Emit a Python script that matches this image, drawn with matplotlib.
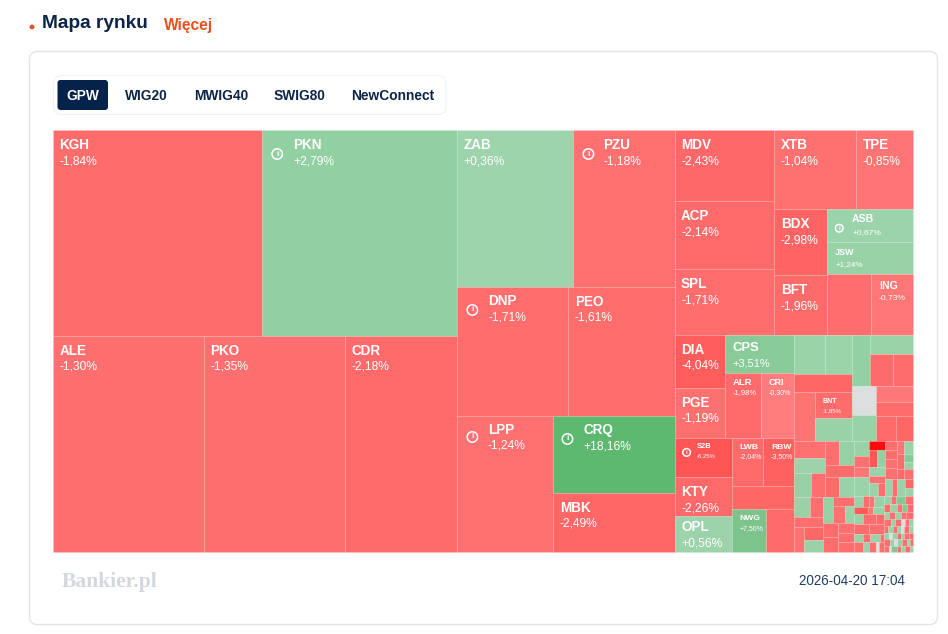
import numpy as np
import matplotlib
matplotlib.use("Agg")
import matplotlib.pyplot as plt
from matplotlib.patches import Rectangle, FancyBboxPatch, Circle

plt.rcParams['font.family'] = ['Liberation Sans', 'DejaVu Sans']

# ---------- data, in layout order ----------
TICKERS_A = ["KGH", "PKN", "ALE", "PKO", "CDR"]
SIZES_A = [430.5, 401.7, 326, 304.6, 242]
CHANGES_A = [-1.84, 2.79, -1.30, -1.35, -2.18]

TICKERS_B = ["ZAB", "PZU", "DNP", "PEO", "LPP", "CRQ", "MBK"]
SIZES_B = [182, 158.6, 143.2, 136.7, 130.6, 93.2, 71.4]
CHANGES_B = [0.36, -1.18, -1.71, -1.61, -1.24, 18.16, -2.49]

TICKERS_C1 = ["MDV", "ACP", "SPL", "XTB", "TPE", "BDX", "BFT", "ASB", "JSW", "", "ING"]
SIZES_C1 = [71, 68, 65, 64.8, 45, 35, 31.3, 28.4, 27.5, 26.4, 25.2]
CHANGES_C1 = [-2.43, -2.14, -1.71, -1.04, -0.85, -2.98, -1.96, 0.67, 1.24, -1.5, -0.73]

TICKERS_C2 = ["DIA", "PGE", "CPS", "ALR", "CRI", "S2B", "KTY", "OPL", "LWB", "RBW", "", "NWG", ""]
SIZES_C2 = [26.5, 25.5, 26.2, 23.8, 21.8, 22.2, 22.2, 20.5, 14.9, 14.9, 14.3, 14.6, 12]
CHANGES_C2 = [-4.04, -1.19, 3.51, -1.98, -0.30, -6.25, -2.26, 0.56, -2.04, -3.50, -2.5, 7.50, -2.0]

TICKERS_R1 = ["", "", "", "", "BNT", "", "", "", "", "", "", "", "", "", "", ""]
SIZES_R1 = [12.4, 10.4, 10.4, 10.1, 9.25, 8.5, 9.4, 8.2, 7.6, 6.6, 7, 6.5, 5.5, 5.2, 5, 4.2]
CHANGES_R1 = [1.0, 0.5, -2.5, -0.9, -1.85, 1.5, 2.5, 1.0, -2.0, -1.8, 0, 1.5, -0.6, -1.9, -2.0, -2.5]

SIZES_R2A = [5.3, 4.7, 4.1, 3.4, 3.4, 3.6, 3.5, 2.8, 3.0]
CHANGES_R2A = [-1.2, 0.6, 1.8, -1.3, -1.3, 2.0, -1.9, -2.0, 1.5]

SIZES_R2B = [3.2, 2.7, 2.8, 2.6, 2.5, 2.2, 2.7, 1.9, 2.0, 1.6, 2.1, 2.1, 1.7, 1.5, 1.7]
CHANGES_R2B = [1.5, -1.5, -1.3, -0.9, -2.5, 1.5, 2.0, -1.5, -1.0, 1.0, -1.6, -1.6, -1.3, -1.3, -1.4]

SIZES_U1 = [2.1, 1.5, 1.5, 2.7]
CHANGES_U1 = [1.2, -1.0, -0.7, 1.0]
SIZES_U2 = [1.5, 1.4, 1.5, 1.4, 1.2, 1.3, 1.0]
CHANGES_U2 = [-15, -6.0, 2.5, 0.8, -1.2, 1.0, -1.5]
SIZES_U3 = [1.1, 1.1, 1.1, 1.3, 0.9, 1.05, 0.7, 1.2, 0.7, 0.6, 0.9, 1.2, 0.85, 1.35, 0.65, 0.7]
CHANGES_U3 = [-1.4, -1.7, -1.0, -1.0, -0.8, -1.8, -2.0, 1.0, 4.0, 1.5, -1.2, 1.0, -1.5, 1.2, -2.5, 1.0]

SIZES_L1 = [.88, .66, .55, 1.1, .91, .35, .77, .8, 1.3, .8, 1.4, 1.5, .64, .56, .8, .32, .8, .6, .7, .3, .5]
CHANGES_L1 = [1.2, -1.5, -1.2, 1.5, -5.0, -0.7, 1.5, 1.2, -1.5, -1.8, -1.6, -1.4,
              1.2, -1.5, 1.0, -1.2, -1.6, 1.0, -1.4, 0, -1.3]
SIZES_L2 = [.56, .4, .72, .64, .48, .56, .4, .4, .48, .35, .42, .42, .35, .49,
            .49, .28, .42, .28, .28, .28, .28, .35, .28, .28, .21, .35, .28,
            .3, .18, .3, .24, .18, .3, .24, .42, .28, .21, .35, .35, .21, .21,
            .3, .12, .36, .24, .24, .3, .18]
CHANGES_L2 = [1.2, -1.5, 5.0, -1.4, -1.6, 1.2, -1.2, 5.0, -1.5, 1.0, -1.5, 1.2, -1.2, -1.8,
              -1.4, 1.2, -1.6, 0, -1.2, 1.0, -1.3, 1.2, -1.6, 1.0, 0, -1.5, 1.2,
              1.0, 0, 1.2, -1.5, 1.0, -1.3, -1.6, -1.5, 1.2, 0, 1.2, -1.3, 1.0, -1.6,
              -1.5, 0, 6.0, -1.3, 1.2, -1.5, 1.0]

TICKERS = TICKERS_A + TICKERS_B + TICKERS_C1 + TICKERS_C2 + TICKERS_R1
SIZES = (SIZES_A + SIZES_B + SIZES_C1 + SIZES_C2 + SIZES_R1 + SIZES_R2A + SIZES_R2B
         + SIZES_U1 + SIZES_U2 + SIZES_U3 + SIZES_L1 + SIZES_L2)
CHANGES = (CHANGES_A + CHANGES_B + CHANGES_C1 + CHANGES_C2 + CHANGES_R1 + CHANGES_R2A + CHANGES_R2B
           + CHANGES_U1 + CHANGES_U2 + CHANGES_U3 + CHANGES_L1 + CHANGES_L2)
TICKERS = TICKERS + [""] * (len(SIZES) - len(TICKERS))

TABS = ["GPW", "WIG20", "MWIG40", "SWIG80", "NewConnect"]
STAMP = "2026-04-20 17:04"

# ---------- treemap shape (h = side by side, v = stacked, int = that many leaves) ----------
def h(*c): return ('h', c)
def v(*c): return ('v', c)

SHAPE = h(
    v(h(2), h(3)),
    v(h(2), h(2), h(1, v(2))),
    v(
        h(v(3), v(h(2), h(v(2), v(v(2), h(2))))),
        h(
            v(h(v(2), v(1, h(2))), h(v(3), v(h(2), 1, h(2)))),
            v(
                h(v(h(2), 1, h(1, v(2))), v(h(1, v(1, h(2))), h(v(2), v(1, 1, h(2))))),
                h(
                    v(
                        h(v(1, 1, h(2)), v(h(2), 1, h(2))),
                        h(v(h(2), 1, h(1, v(2))), v(h(1, v(1, h(2))), h(v(2), v(3)))),
                    ),
                    v(
                        h(v(4), v(1, h(2), 1, 1, h(2)),
                          v(h(v(4), v(3), v(4)), h(1, 1, 1, v(2)))),
                        h(
                            v(h(4), h(3), h(3), h(2), h(4), h(5)),
                            v(h(4), h(5), h(5), h(6), h(7), h(7), h(7), h(7)),
                        ),
                    ),
                ),
            ),
        ),
    ),
)

MAP_X0, MAP_X1, MAP_Y0, MAP_Y1 = 53, 913, 130, 552

def build(node, counter):
    """Attach weights: returns (weight, leaf index or None, direction, children)."""
    if isinstance(node, int):
        if node == 1:
            i = counter[0]
            counter[0] += 1
            return (SIZES[i], i, None, None)
        node = ('h', (1,) * node)
    d, kids = node
    expanded = []
    for k in kids:
        if isinstance(k, int) and k > 1:
            expanded.extend([1] * k)
        else:
            expanded.append(k)
    built = [build(k, counter) for k in expanded]
    return (sum(b[0] for b in built), None, d, built)

def layout(b, x0, y0, x1, y1, out):
    w, idx, d, kids = b
    if idx is not None:
        out.append((idx, x0, y0, x1, y1))
        return
    pos = x0 if d == 'h' else y0
    span = (x1 - x0) if d == 'h' else (y1 - y0)
    for k in kids:
        step = span * k[0] / w
        if d == 'h':
            layout(k, pos, y0, pos + step, y1, out)
        else:
            layout(k, x0, pos, x1, pos + step, out)
        pos += step

counter = [0]
tree = build(SHAPE, counter)
cells = []
layout(tree, MAP_X0, MAP_Y0, MAP_X1, MAP_Y1, cells)

# ---------- colour scale ----------
STOPS = [-15, -6.25, -4, -2, -1, -0.3, 0, 0.3, 2.8, 3.5, 7.5, 18]
R = [255, 255, 255, 255, 255, 255, 221, 157, 146, 137, 125, 93]
G = [10, 85, 92, 107, 113, 125, 222, 212, 207, 203, 195, 184]
B = [10, 85, 92, 107, 113, 125, 224, 171, 161, 152, 140, 112]

def colour(c):
    return (np.interp(c, STOPS, R) / 255, np.interp(c, STOPS, G) / 255, np.interp(c, STOPS, B) / 255)

# label styles: ticker px, pct px, dx, ticker dy, pct dy, icon (dx, dy) or None
BIG = (13.5, 12, 6.5, 15, 31, None)
LABEL_STYLE = {
    "PKN": (13.5, 12, 31, 15, 31, (15, 24)), "PZU": (13.5, 12, 30, 15, 31, (15, 24)),
    "DNP": (13.5, 12, 31, 14, 31, (15, 23)), "LPP": (13.5, 12, 30.5, 14, 30, (15, 21)),
    "CRQ": (13.5, 12, 30, 14, 31, (14, 23)),
    "CPS": (13, 11, 7.5, 13, 28.5, None), "ALR": (9.5, 7.5, 8, 9.5, 20.5, None), "CRI": (9, 7, 8, 9.5, 20.5, None),
    "BNT": (7, 6, 8, 9, 18, None), "LWB": (8.5, 7, 8, 9, 18, None), "RBW": (8.5, 7, 8, 9, 18, None),
    "NWG": (8.5, 7, 8, 9, 19, None), "ING": (10.5, 8.5, 8, 11.5, 23.5, None),
    "ASB": (10.5, 8.5, 25, 10, 23, (12, 19)), "JSW": (9, 8, 8, 10, 22, None),
    "S2B": (7.5, 6, 22, 8, 17, (12, 14)), "OPL": (13.5, 12, 7, 11, 27, None),
}

def pt(px):
    return px * 0.72

# ---------- figure ----------
fig = plt.figure(figsize=(9.48, 6.34), dpi=100, facecolor='white')
ax = fig.add_axes([0, 0, 1, 1])
ax.set_xlim(0, 948)
ax.set_ylim(634, 0)
ax.axis('off')

NAVY = '#0b2447'
ORANGE = '#e8501e'

# header
ax.add_patch(Circle((32, 27), 2.4, fc=ORANGE, ec='none'))
ax.text(42, 24, "Mapa rynku", fontsize=pt(19.2), fontweight='bold', color=NAVY, va='center', ha='left')
ax.text(164, 25.5, "Więcej", fontsize=pt(15.5), fontweight='bold', color=ORANGE, va='center', ha='left')

# card
ax.add_patch(FancyBboxPatch((29.5, 51.5), 908, 573, boxstyle="round,pad=0,rounding_size=8",
                            fc='white', ec='#e3e5e8', lw=1.0))
# tabs
ax.add_patch(FancyBboxPatch((53.5, 75.5), 392.5, 39, boxstyle="round,pad=0,rounding_size=8",
                            fc='white', ec='#f1f2f4', lw=0.8))
ax.add_patch(FancyBboxPatch((57.5, 80), 50.5, 30, boxstyle="round,pad=0,rounding_size=3",
                            fc='#05224a', ec='none'))
for name, cx in zip(TABS, [83, 146.5, 221, 300, 393]):
    ax.text(cx, 95.5, name, fontsize=pt(13.8), fontweight='bold', ha='center', va='center',
            color='white' if name == "GPW" else NAVY)

# treemap
for idx, x0, y0, x1, y1 in cells:
    ax.add_patch(Rectangle((x0, y0), x1 - x0, y1 - y0, fc=colour(CHANGES[idx]),
                           ec=(1, 1, 1, 0.10), lw=0.5))

for idx, x0, y0, x1, y1 in cells:
    name = TICKERS[idx]
    if not name:
        continue
    fs1, fs2, dx, dy1, dy2, icon = LABEL_STYLE.get(name, BIG)
    pct = f"{CHANGES[idx]:+.2f}%".replace('.', ',')
    ax.text(x0 + dx, y0 + dy1, name, fontsize=pt(fs1), fontweight='bold', color='white', ha='left', va='center')
    ax.text(x0 + dx, y0 + dy2, pct, fontsize=pt(fs2), color='white', ha='left', va='center')
    if icon:
        r = 5.2 if fs1 > 12 else 3.8
        ax.add_patch(Circle((x0 + icon[0], y0 + icon[1]), r, fc='none', ec='white', lw=1.1))
        ax.text(x0 + icon[0], y0 + icon[1], "i", fontsize=pt(r * 1.6), fontweight='bold', color='white',
                ha='center', va='center')

# footer
ax.text(62, 581.5, "Bankier.pl", family=['Liberation Serif'], fontsize=pt(21.5), fontweight='bold',
        color='#d3d8df', ha='left', va='center')
ax.text(905, 581, STAMP, fontsize=pt(13.5), color='#1f3f66', ha='right', va='center')

fig.savefig("out.png", dpi=100, facecolor='white')
